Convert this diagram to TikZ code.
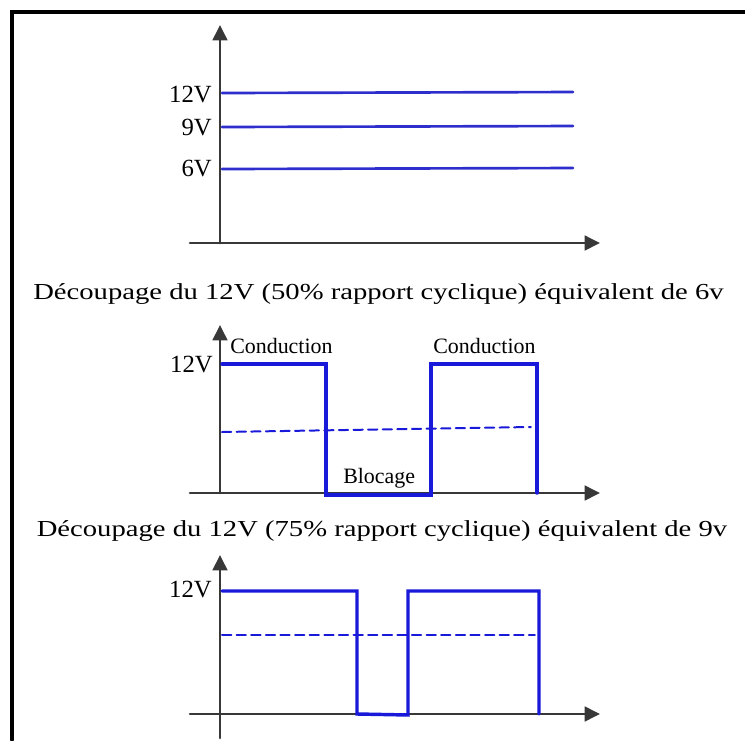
\documentclass[tikz,border=0pt]{standalone}
\usepackage{fontspec}
\setmainfont{Liberation Serif}
\usepackage{tkz-euclide}
\usetikzlibrary{arrows.meta}
\definecolor{WaveClr}{rgb}{0.1,0.1,0.85}
\definecolor{LevelClr}{rgb}{0.18,0.18,0.8}
\definecolor{AxisClr}{rgb}{0.22,0.22,0.22}
\tikzset{
  axisline/.style={draw=AxisClr,line width=2pt,-{Triangle[length=11.5pt,width=11pt]}},
  waveline/.style={draw=WaveClr,line width=2.6pt},
  levelline/.style={draw=LevelClr,line width=2pt},
  meanline/.style={draw=WaveClr,line width=1.5pt,dash pattern=on 7pt off 4pt},
  framebox/.style={draw=black,line width=2.5pt},
  vlabel/.style={font=\fontsize{18.6}{20}\selectfont,anchor=base east,inner sep=0pt},
  statelabel/.style={font=\fontsize{16.5}{18}\selectfont,anchor=base west,inner sep=0pt},
  captext/.style={font=\fontsize{17.25}{19}\selectfont,anchor=base,inner sep=0pt,xscale=1.25}
}

\begin{document}
\begin{tikzpicture}[scale=0.26458]
\useasboundingbox (0,0) rectangle (74.5,74);

% frame
\tkzDefPoints{1.2/0/K1,1.2/72.8/K2,74.5/72.8/K3}
\tkzDrawPolySeg[framebox](K1,K2,K3)

% constant levels
\tkzDefPoints{22/49.7/O1,22/71.5/Y1,19/49.7/P1,60/49.7/X1}
\tkzDefPoints{22.2/64.7/A1,57.3/64.8/B1,22.2/61.3/A2,57.3/61.4/B2,22.2/57.1/A3,57.3/57.2/B3}
\tkzDefPoints{21.2/63.8/L1,21.2/60.5/L2,21.2/56.4/L3}
\tkzDrawSegment[axisline](O1,Y1)
\tkzDrawSegment[axisline](P1,X1)
\tkzDrawSegments[levelline](A1,B1 A2,B2 A3,B3)
\node[vlabel] (v12a) at (L1) {12V};
\node[vlabel] (v9) at (L2) {9V};
\node[vlabel] (v6) at (L3) {6V};

\tkzDefPoints{37.85/44.1/C1,38.2/20.4/C2}
\node[captext] (cap50) at (C1) {Découpage du 12V (50\% rapport cyclique) équivalent de 6v};

% 50% duty cycle
\tkzDefPoints{22/24.7/O2,22/41.5/Y2,19/24.7/P2,60/24.7/X2}
\tkzDefPoints{22.2/37.6/W1,32.6/37.6/W2,32.6/24.5/W3,43.1/24.5/W4,43.1/37.6/W5,53.7/37.6/W6,53.7/24.7/W7}
\tkzDefPoints{22.2/30.8/M1,53.1/31.3/M2}
\tkzDefPoints{23/38.7/S1,43.3/38.7/S2,34.3/25.7/S3,21.3/36.8/L4}
\tkzDrawSegment[axisline](O2,Y2)
\tkzDrawSegment[axisline](P2,X2)
\tkzDrawPolySeg[waveline](W1,W2,W3,W4,W5,W6,W7)
\tkzDrawSegment[meanline](M1,M2)
\node[statelabel] (cond1) at (S1) {Conduction};
\node[statelabel] (cond2) at (S2) {Conduction};
\node[statelabel] (bloc) at (S3) {Blocage};
\node[vlabel] (v12b) at (L4) {12V};

\node[captext] (cap75) at (C2) {Découpage du 12V (75\% rapport cyclique) équivalent de 9v};

% 75% duty cycle
\tkzDefPoints{22/0.2/Q3,22/18.5/Y3,19/2.6/P3,60/2.6/X3}
\tkzDefPoints{22.2/14.9/V1,35.7/14.9/V2,35.7/2.6/V3,40.8/2.5/V4,40.8/14.9/V5,53.9/14.9/V6,53.9/2.6/V7}
\tkzDefPoints{22.2/10.5/N1,53.5/10.5/N2,21.2/14.3/L5}
\tkzDrawSegment[axisline](Q3,Y3)
\tkzDrawSegment[axisline](P3,X3)
\tkzDrawPolySeg[waveline](V1,V2,V3,V4,V5,V6,V7)
\tkzDrawSegment[meanline](N1,N2)
\node[vlabel] (v12c) at (L5) {12V};

\end{tikzpicture}
\end{document}
